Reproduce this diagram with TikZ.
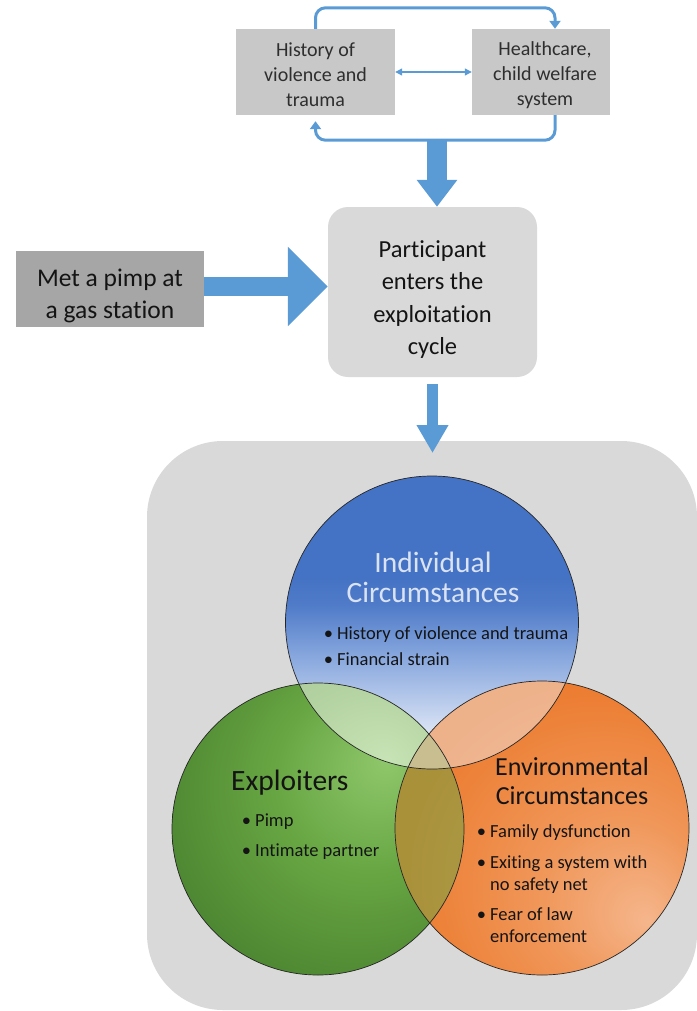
\documentclass[tikz,border=0pt]{standalone}
\usepackage{fontspec}
\setmainfont{Carlito}[Ligatures=NoCommon]
\usetikzlibrary{arrows.meta,calc}
\definecolor{arrowblue}{HTML}{5B9BD5}
\definecolor{boxgray}{HTML}{C8C8C8}
\definecolor{metgray}{HTML}{A6A6A6}
\definecolor{panelgray}{HTML}{D9D9D9}
\definecolor{boxtext}{HTML}{2E2E2E}
\definecolor{bA}{HTML}{F2F5FB}
\definecolor{bB}{HTML}{DCE5F5}
\definecolor{bC}{HTML}{89A8DE}
\definecolor{bD}{HTML}{4F7BC8}
\definecolor{bE}{HTML}{4472C4}
\definecolor{gA}{HTML}{8FC86C}
\definecolor{gB}{HTML}{68A643}
\definecolor{gC}{HTML}{3F7628}
\definecolor{oA}{HTML}{F5B68C}
\definecolor{oB}{HTML}{F0975A}
\definecolor{oC}{HTML}{EC7C30}
\definecolor{headblue}{HTML}{DAE3F3}
\definecolor{darktext}{HTML}{141414}
\definecolor{circline}{HTML}{262626}
\pgfdeclareverticalshading{blueshade}{100bp}{color(0bp)=(bA); color(25bp)=(bA); color(31bp)=(bB); color(44bp)=(bC); color(53bp)=(bD); color(58bp)=(bE); color(100bp)=(bE)}
\pgfdeclareradialshading{greenshade}{\pgfpoint{12bp}{12bp}}{color(0bp)=(gA); color(16bp)=(gB); color(42bp)=(gC); color(60bp)=(gC)}
\pgfdeclareradialshading{orangeshade}{\pgfpoint{18bp}{-16bp}}{color(0bp)=(oA); color(14bp)=(oB); color(32bp)=(oC); color(60bp)=(oC)}
\tikzset{
  topbox/.style={fill=boxgray, inner sep=0pt, minimum height=86pt},
  toptext/.style={inner sep=0pt, align=center, text=boxtext, font=\fontsize{20}{25}\selectfont},
  partbox/.style={fill=panelgray, rounded corners=20pt, inner sep=0pt, minimum width=209pt,
    minimum height=170pt},
  metbox/.style={fill=metgray, inner sep=0pt, minimum width=188pt, minimum height=76pt},
  bigtext/.style={inner sep=0pt, align=center, text=darktext},
  thinarrow/.style={arrowblue, line width=1.2pt,
    {Triangle[length=7pt,width=7pt]}-{Triangle[length=7pt,width=7pt]}},
  loopcurve/.style={arrowblue, line width=3pt, rounded corners=10pt,
    -{Triangle[length=8pt,width=11pt]}},
  circedge/.style={draw=circline, line width=0.7pt},
  heading/.style={anchor=base, inner sep=0pt, font=\fontsize{29.5}{30}\selectfont},
  bul/.style={anchor=base west, inner sep=0pt, text=darktext, font=\fontsize{18.5}{22}\selectfont},
}
\newcommand{\bitem}[1]{\llap{\textbullet\hspace{4pt}}#1}
\begin{document}
\begin{tikzpicture}[x=1pt,y=-1pt]
\useasboundingbox (0,0) rectangle (696,1011);
% top boxes
\node[topbox, minimum width=159pt] (hist) at (315.5,72) {};
\node[toptext] (histtxt) at ($(hist.center)+(0,3)$) {History of\\violence and\\trauma};
\node[topbox, minimum width=138pt] (health) at (541,72) {};
\node[toptext] (healthtxt) at ($(health.center)+(4,3)$) {Healthcare,\\child welfare\\system};
\draw[thinarrow] (hist.east) -- (health.west);
\draw[loopcurve] (hist.north) -- ++(0,-21) -| ([xshift=14pt]health.north);
\draw[loopcurve] ([xshift=14pt]health.south) -- ++(0,25) -| ([yshift=-6pt]hist.south);
% participant
\node[partbox] (part) at (432.5,292) {};
\node[bigtext, font=\fontsize{24.5}{32.5}\selectfont] (parttxt) at ($(part.center)+(0,7.5)$) {Participant\\enters the\\exploitation\\cycle};
\node[metbox] (met) at (110,289) {};
\node[bigtext, font=\fontsize{25.5}{31.5}\selectfont] (mettxt) at ($(met.center)+(0,7)$) {Met a pimp at\\a gas station};
\coordinate (split) at (437,140);
\draw[arrowblue, line width=20pt, -{Triangle[length=27pt,width=39pt]}] (split) -- (split |- part.north);
\draw[arrowblue, line width=19pt, -{Triangle[length=40pt,width=77pt]}] ([yshift=2.5pt]met.east) -- ([yshift=2.5pt]met.east -| part.west);
% panel
\fill[panelgray, rounded corners=76pt] (147,441) rectangle (697,1010);
\coordinate (tipb) at (432.5,453);
\draw[arrowblue, line width=11pt, -{Triangle[length=28pt,width=30pt]}] ([yshift=-7pt]part.south) -- (tipb);
% circles
\coordinate (cb) at (432,622.5);
\coordinate (cg) at (318,829);
\coordinate (co) at (542,828);
\shade[shading=blueshade] (cb) circle[radius=146.5pt];
\shade[shading=greenshade] (cg) circle[radius=146pt];
\begin{scope}
  \clip (cg) circle[radius=146pt];
  \fill[white, fill opacity=0.5] (cb) circle[radius=146.5pt];
\end{scope}
\shade[shading=orangeshade] (co) circle[radius=147pt];
\begin{scope}
  \clip (co) circle[radius=147pt];
  \fill[gB, fill opacity=0.5] (cg) circle[radius=146pt];
  \fill[bA, fill opacity=0.45] (cb) circle[radius=146.5pt];
\end{scope}
\draw[circedge] (cb) circle[radius=146.5pt];
\draw[circedge] (cg) circle[radius=146pt];
\draw[circedge] (co) circle[radius=147pt];
% texts
\node[heading, text=headblue] (ind1) at (433,572) {Individual};
\node[heading, text=headblue] (ind2) at (433,602) {Circumstances};
\node[bul] (ib1) at (337,639) {\bitem{History of violence and trauma}};
\node[bul] (ib2) at (337,665) {\bitem{Financial strain}};
\node[heading, anchor=base west, text=darktext] (exh) at (231,790) {Exploiters};
\node[bul] (eb1) at (255,826) {\bitem{Pimp}};
\node[bul] (eb2) at (255,856) {\bitem{Intimate partner}};
\node[heading, text=darktext, font=\fontsize{26}{30}\selectfont] (en1) at (572,775) {Environmental};
\node[heading, text=darktext, font=\fontsize{26}{30}\selectfont] (en2) at (572,804) {Circumstances};
\node[bul] (ob1) at (490,837) {\bitem{Family dysfunction}};
\node[bul] (ob2) at (490,868) {\bitem{Exiting a system with}};
\node[bul] (ob3) at (490,890) {no safety net};
\node[bul] (ob4) at (490,920) {\bitem{Fear of law}};
\node[bul] (ob5) at (490,942) {enforcement};
\end{tikzpicture}
\end{document}
